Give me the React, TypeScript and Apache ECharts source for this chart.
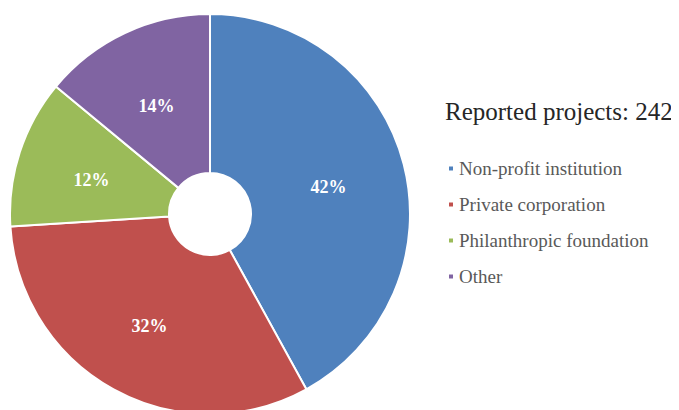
import React, { useEffect, useRef } from "react";
import * as echarts from "echarts";

const categories = ["Non-profit institution", "Private corporation", "Philanthropic foundation", "Other"];
const shares = [42, 32, 12, 14];
const colors = ["#4F81BD", "#C0504D", "#9BBB59", "#8064A2"];
const titleText = "Reported projects: 242";

const SERIF = "'Liberation Serif', 'Times New Roman', serif";

export default function App() {
  const ref = useRef<HTMLDivElement>(null);
  useEffect(() => {
    if (!ref.current) return;
    const chart = echarts.init(ref.current, undefined, { renderer: "svg" });
    chart.setOption({
      animation: false,
      color: colors,
      title: {
        text: titleText,
        left: 440,
        top: 94,
        textStyle: { fontFamily: SERIF, fontSize: 25, fontWeight: "normal", color: "#262626" },
      },
      legend: {
        orient: "vertical",
        left: 442,
        top: 154,
        icon: "rect",
        itemWidth: 6,
        itemHeight: 6,
        itemGap: 17,
        selectedMode: false,
        textStyle: { fontFamily: SERIF, fontSize: 19, color: "#595959" },
        data: categories,
      },
      series: [
        {
          type: "pie",
          center: [210, 214],
          radius: [41, 200],
          startAngle: 90,
          clockwise: true,
          itemStyle: { borderColor: "#ffffff", borderWidth: 2 },
          label: {
            show: true,
            position: "inside",
            formatter: "{c}%",
            color: "#ffffff",
            fontFamily: SERIF,
            fontWeight: "bold",
            fontSize: 18,
            offset: [-1, 4],
          },
          labelLine: { show: false },
          data: categories.map((name, i) => ({ name, value: shares[i] })),
        },
      ],
    });
    return () => chart.dispose();
  }, []);
  return <div ref={ref} style={{ width: 679, height: 410, margin: "-8px 0 0 -8px" }} />;
}
